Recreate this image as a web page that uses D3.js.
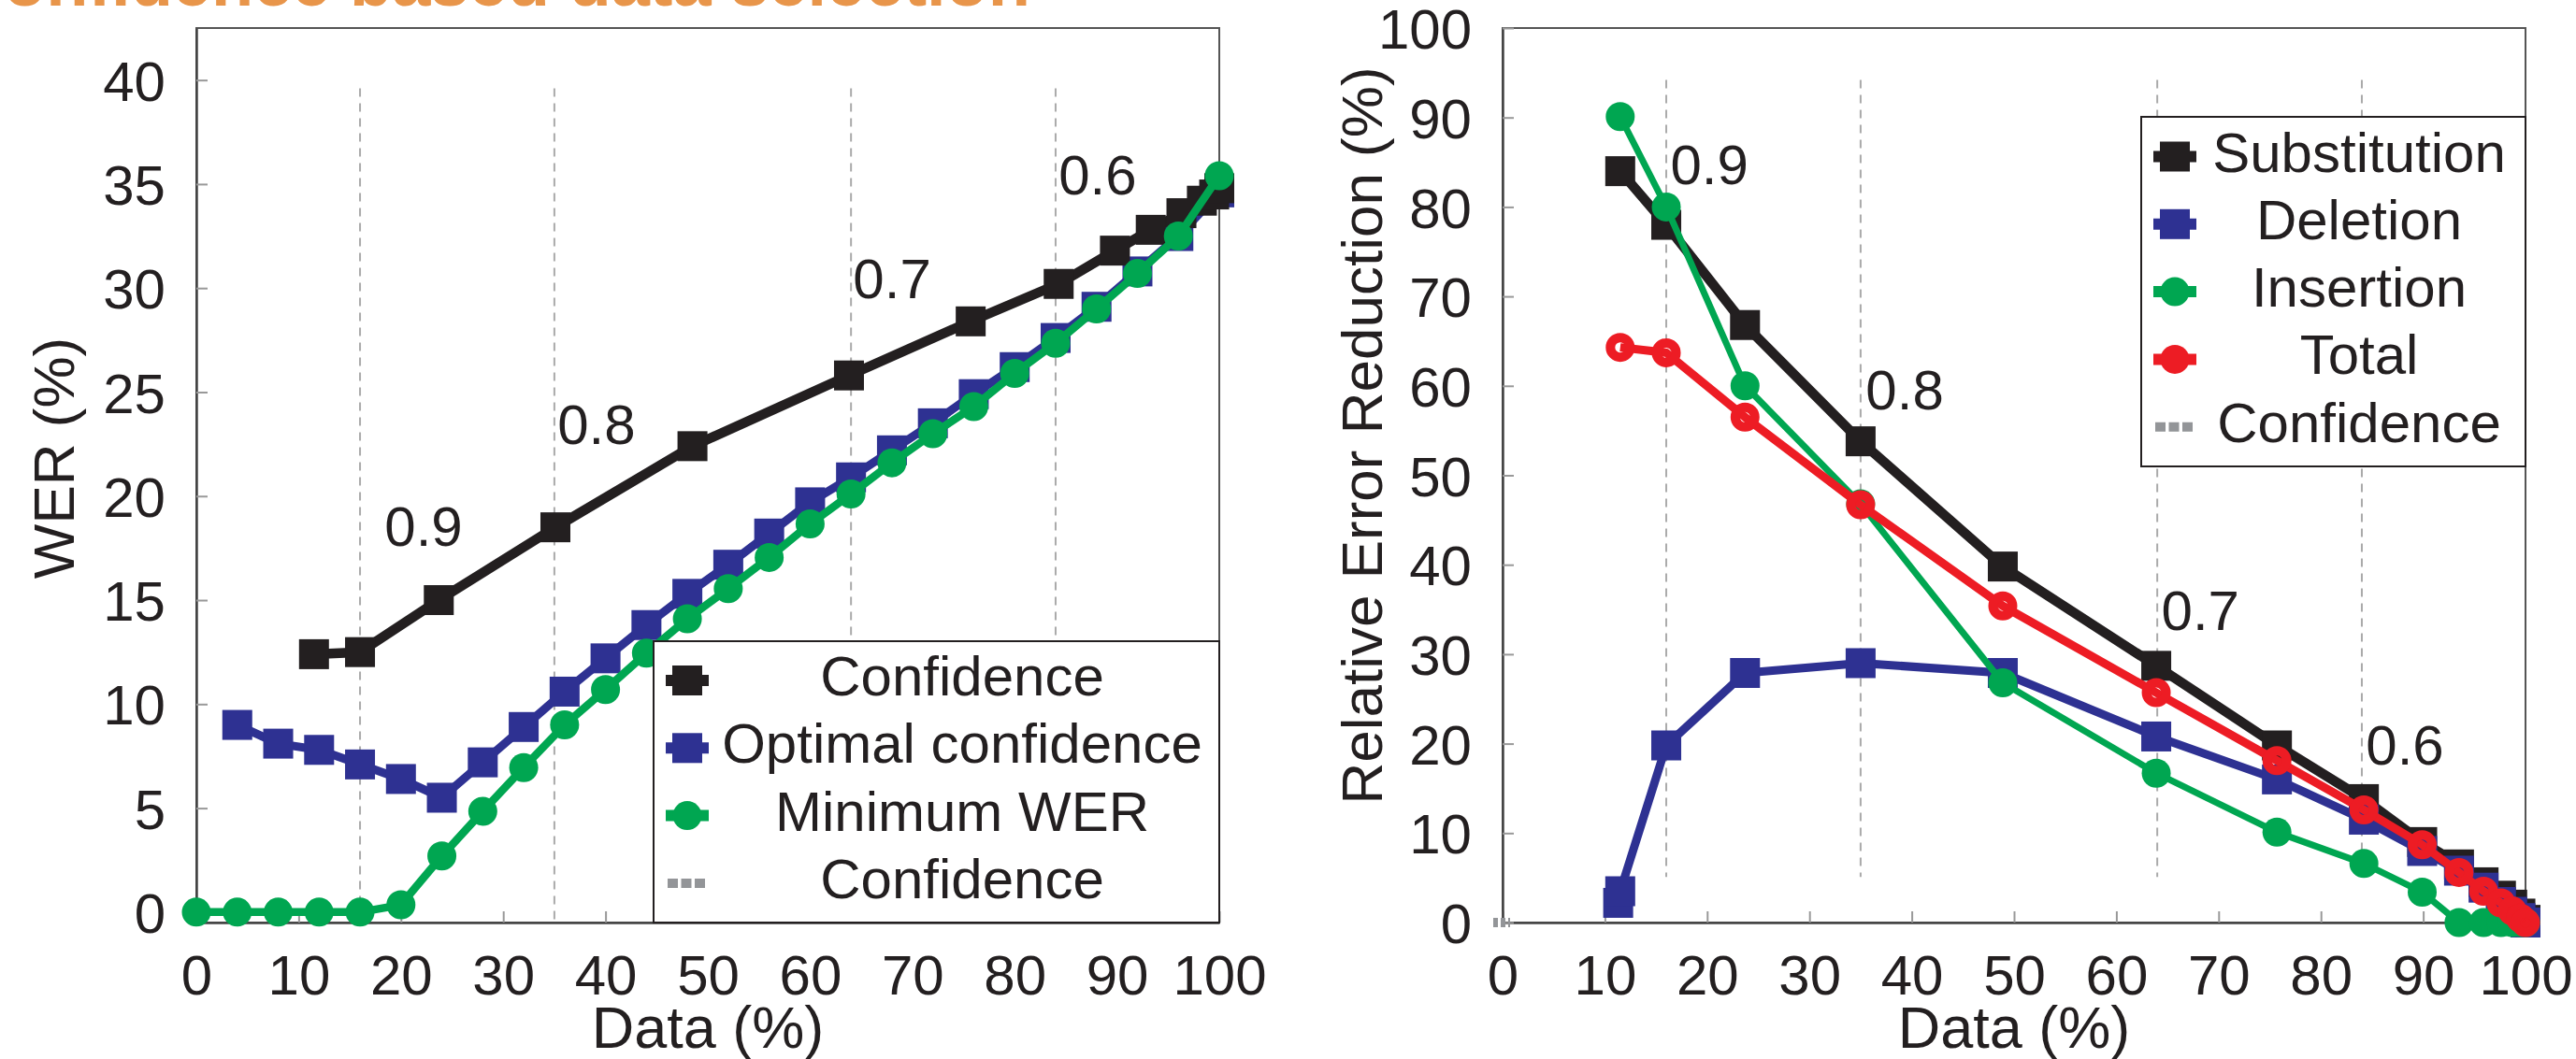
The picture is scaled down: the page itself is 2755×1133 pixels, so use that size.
<!DOCTYPE html>
<html>
<head>
<meta charset="utf-8">
<script src="https://cdn.jsdelivr.net/npm/d3@7"></script>
<style>
body { margin: 0; background: #fff; }
text { font-family: "Liberation Sans", Arial, sans-serif; fill: #231f20; }
.axis path { stroke: #444; stroke-width: 2.5; }
.axis line { stroke: #999; stroke-width: 2; }
.axis text { font-size: 60px; fill: #231f20; }
</style>
</head>
<body>
<div id="chart"></div>
<script>
"use strict";

// ---- left panel: WER (%) vs Data (%) ----
var confX = [11.5, 16, 23.7, 35.1, 48.5, 63.8, 75.7, 84.3, 89.8, 93.3, 96.3, 98.3, 99.5, 100];
var confY = [12.4, 12.5, 15.0, 18.5, 22.4, 25.8, 28.4, 30.2, 31.8, 32.8, 33.6, 34.2, 34.5, 34.8];

var optX = [4, 8, 12, 16, 20, 24, 28, 32, 36, 40, 44, 48, 52, 56, 60, 64, 68, 72, 76, 80, 84, 88, 92, 96, 100];
var optY = [9.0, 8.1, 7.8, 7.1, 6.4, 5.5, 7.2, 8.9, 10.6, 12.2, 13.8, 15.3, 16.7, 18.2, 19.7, 20.9, 22.2, 23.5, 24.9, 26.2, 27.6, 29.1, 30.8, 32.5, 34.6];

var minX = [0, 4, 8, 12, 16, 20, 24, 28, 32, 36, 40, 44, 48, 52, 56, 60, 64, 68, 72, 76, 80, 84, 88, 92, 96, 100];
var minY = [0, 0, 0, 0, 0, 0.35, 2.7, 4.85, 6.95, 9.0, 10.7, 12.45, 14.1, 15.55, 17.05, 18.66, 20.1, 21.6, 23.0, 24.3, 25.9, 27.35, 29.0, 30.7, 32.5, 35.4];

// ---- right panel: relative error reduction ----
var relX = [11.5, 16, 23.7, 35, 48.9, 63.9, 75.7, 84.2, 89.9, 93.5, 95.9, 97.6, 98.7, 99.5, 100];
var subY = [84.0, 78.0, 66.8, 53.8, 39.8, 28.7, 19.8, 13.8, 9.0, 6.5, 4.5, 3.0, 2.0, 1.0, 0.3];
var delX = [11.3, 11.5, 16, 23.7, 35, 48.9, 63.9, 75.7, 84.2, 89.9, 93.5, 95.9, 97.6, 98.7, 99.5, 100];
var delY = [2.2, 3.5, 19.8, 27.9, 29.0, 27.9, 20.8, 16.0, 11.5, 8.0, 5.8, 3.9, 2.3, 1.2, 0.5, 0];
var insY = [90.1, 80.0, 60.0, 46.8, 26.8, 16.7, 10.1, 6.6, 3.4, 0, 0, 0, 0, 0, 0];
var totY = [64.3, 63.7, 56.5, 46.7, 35.4, 25.7, 18.1, 12.6, 8.7, 5.6, 3.5, 2.2, 1.3, 0.5, 0];

// confidence thresholds (vertical dashed lines)
var thrX = [16, 35, 64, 84];
var thrLabels = ["0.9", "0.8", "0.7", "0.6"];
var leftLabX = [18.4, 35.3, 64.2, 84.3];
var leftLabY = [17.6, 22.5, 29.5, 34.5];
var rightLabX = [16.4, 35.5, 64.4, 84.4];
var rightLabY = [82.5, 57.4, 32.7, 17.7];

var leftYTicks = [0, 5, 10, 15, 20, 25, 30, 35, 40];
var rightYTicks = [0, 10, 20, 30, 40, 50, 60, 70, 80, 90, 100];
var xTicks = [0, 10, 20, 30, 40, 50, 60, 70, 80, 90, 100];

var C = { black: "#231f20", blue: "#2e3192", green: "#00a651", red: "#ed1c24", grey: "#939598" };

var svg = d3.select("#chart").append("svg")
    .attr("width", 2755)
    .attr("height", 1133)
    .style("display", "block");

// title, mostly cut off at the top edge
svg.append("text")
    .attr("x", 1102)
    .attr("y", 6)
    .attr("text-anchor", "end")
    .attr("font-size", "74px")
    .attr("font-weight", "bold")
    .style("fill", "#e8954a")
    .text("Confidence based data selection");

function zip(xs, ys) {
    return xs.map(function (x, i) { return { x: x, y: ys[i] }; });
}

function drawMarker(g, shape, cx, cy, color) {
    if (shape === "square") {
        g.append("rect").attr("x", cx - 16).attr("y", cy - 16)
            .attr("width", 32).attr("height", 32).attr("fill", color);
    } else if (shape === "circle") {
        g.append("circle").attr("cx", cx).attr("cy", cy).attr("r", 15.5).attr("fill", color);
    } else if (shape === "ring") {
        g.append("circle").attr("cx", cx).attr("cy", cy).attr("r", 10.5)
            .attr("fill", "none").attr("stroke", color).attr("stroke-width", 10);
    }
}

function drawSeries(g, x, y, data, color, shape, width) {
    var line = d3.line().x(function (d) { return x(d.x); }).y(function (d) { return y(d.y); });
    g.append("path").datum(data)
        .attr("d", line)
        .attr("fill", "none")
        .attr("stroke", color)
        .attr("stroke-width", width)
        .attr("stroke-linejoin", "round");
    data.forEach(function (d) { drawMarker(g, shape, x(d.x), y(d.y), color); });
}

function drawPanel(opt) {
    var x = d3.scaleLinear().domain([0, 100]).range([opt.left, opt.right]);
    var y = d3.scaleLinear().domain(opt.yDomain).range([987, 30]);
    var g = svg.append("g");

    g.append("rect")
        .attr("x", opt.left).attr("y", 30)
        .attr("width", opt.right - opt.left).attr("height", 957)
        .attr("fill", "#fff").attr("stroke", "#555").attr("stroke-width", 2);

    // dashed threshold lines
    thrX.forEach(function (t) {
        g.append("line")
            .attr("x1", x(t)).attr("x2", x(t))
            .attr("y1", y(opt.dashTop)).attr("y2", y(opt.dashBottom))
            .attr("stroke", "#aaa").attr("stroke-width", 2)
            .attr("stroke-dasharray", "9,7");
    });

    g.append("g").attr("class", "axis")
        .attr("transform", "translate(0,987)")
        .call(d3.axisBottom(x).tickValues(xTicks).tickSizeInner(-12).tickSizeOuter(0).tickPadding(34));

    g.append("g").attr("class", "axis yaxis")
        .attr("transform", "translate(" + opt.left + ",0)")
        .call(d3.axisLeft(y).tickValues(opt.yTicks).tickSizeInner(-12).tickSizeOuter(0).tickPadding(33));

    g.selectAll(".axis text").attr("font-size", "60px").style("font-family", "\"Liberation Sans\", Arial, sans-serif");
    g.selectAll(".yaxis text").attr("dy", "0.36em");

    // threshold labels
    thrLabels.forEach(function (lab, i) {
        g.append("text")
            .attr("x", x(opt.labX[i])).attr("y", y(opt.labY[i]))
            .attr("font-size", "60px")
            .text(lab);
    });

    // grey confidence mark at the origin
    g.append("line")
        .attr("x1", x(0) - 10).attr("x2", x(0) + 8)
        .attr("y1", y(0)).attr("y2", y(0))
        .attr("stroke", C.grey).attr("stroke-width", 10)
        .attr("stroke-dasharray", "5,3");

    opt.series.forEach(function (s) {
        drawSeries(g, x, y, s.data, s.color, s.shape, s.width);
    });

    // legend
    var lg = g.append("g");
    lg.append("rect")
        .attr("x", opt.legend.x0).attr("y", opt.legend.y0)
        .attr("width", opt.legend.x1 - opt.legend.x0).attr("height", opt.legend.y1 - opt.legend.y0)
        .attr("fill", "#fff").attr("stroke", "#231f20").attr("stroke-width", 2);
    opt.legend.items.forEach(function (it, i) {
        var cy = opt.legend.rowY + i * 72.3;
        var mx = opt.legend.markX;
        if (it.shape === "dash") {
            lg.append("line")
                .attr("x1", mx - 21).attr("x2", mx + 19)
                .attr("y1", cy).attr("y2", cy)
                .attr("stroke", C.grey).attr("stroke-width", 10)
                .attr("stroke-dasharray", "11,3.5");
        } else {
            lg.append("line")
                .attr("x1", mx - 23).attr("x2", mx + 23)
                .attr("y1", cy).attr("y2", cy)
                .attr("stroke", it.color).attr("stroke-width", 12);
            drawMarker(lg, it.shape === "ring" ? "circle" : it.shape, mx, cy, it.color);
        }
        lg.append("text")
            .attr("x", opt.legend.textX).attr("y", cy + 16)
            .attr("text-anchor", "middle")
            .attr("font-size", "60px")
            .text(it.name);
    });

    // axis titles
    svg.append("text")
        .attr("transform", "translate(" + opt.yLabX + "," + opt.yLabY + ") rotate(-90)")
        .attr("text-anchor", "middle")
        .attr("font-size", "62px")
        .text(opt.yLabel);

    svg.append("text")
        .attr("x", (opt.left + opt.right) / 2).attr("y", 1121)
        .attr("text-anchor", "middle")
        .attr("font-size", "63px")
        .text("Data (%)");
}

drawPanel({
    left: 210, right: 1304,
    yDomain: [-0.5, 42.5], yTicks: leftYTicks,
    dashTop: 39.6, dashBottom: -0.5,
    labX: leftLabX, labY: leftLabY,
    yLabel: "WER (%)", yLabX: 79, yLabY: 490,
    series: [
        { data: zip(optX, optY), color: C.blue, shape: "square", width: 9 },
        { data: zip(confX, confY), color: C.black, shape: "square", width: 10.5 },
        { data: zip(minX, minY), color: C.green, shape: "circle", width: 8.5 }
    ],
    legend: {
        x0: 699, x1: 1304, y0: 686, y1: 987, rowY: 728, markX: 735, textX: 1029,
        items: [
            { name: "Confidence", color: C.black, shape: "square" },
            { name: "Optimal confidence", color: C.blue, shape: "square" },
            { name: "Minimum WER", color: C.green, shape: "circle" },
            { name: "Confidence", color: C.grey, shape: "dash" }
        ]
    }
});

drawPanel({
    left: 1607, right: 2701,
    yDomain: [0, 100], yTicks: rightYTicks,
    dashTop: 94.2, dashBottom: 5.1,
    labX: rightLabX, labY: rightLabY,
    yLabel: "Relative Error Reduction (%)", yLabX: 1478, yLabY: 466,
    series: [
        { data: zip(relX, subY), color: C.black, shape: "square", width: 10.5 },
        { data: zip(delX, delY), color: C.blue, shape: "square", width: 9 },
        { data: zip(relX, insY), color: C.green, shape: "circle", width: 7 },
        { data: zip(relX, totY), color: C.red, shape: "ring", width: 9 }
    ],
    legend: {
        x0: 2290, x1: 2701, y0: 125, y1: 499, rowY: 167.5, markX: 2326, textX: 2523,
        items: [
            { name: "Substitution", color: C.black, shape: "square" },
            { name: "Deletion", color: C.blue, shape: "square" },
            { name: "Insertion", color: C.green, shape: "circle" },
            { name: "Total", color: C.red, shape: "ring" },
            { name: "Confidence", color: C.grey, shape: "dash" }
        ]
    }
});
</script>
</body>
</html>
